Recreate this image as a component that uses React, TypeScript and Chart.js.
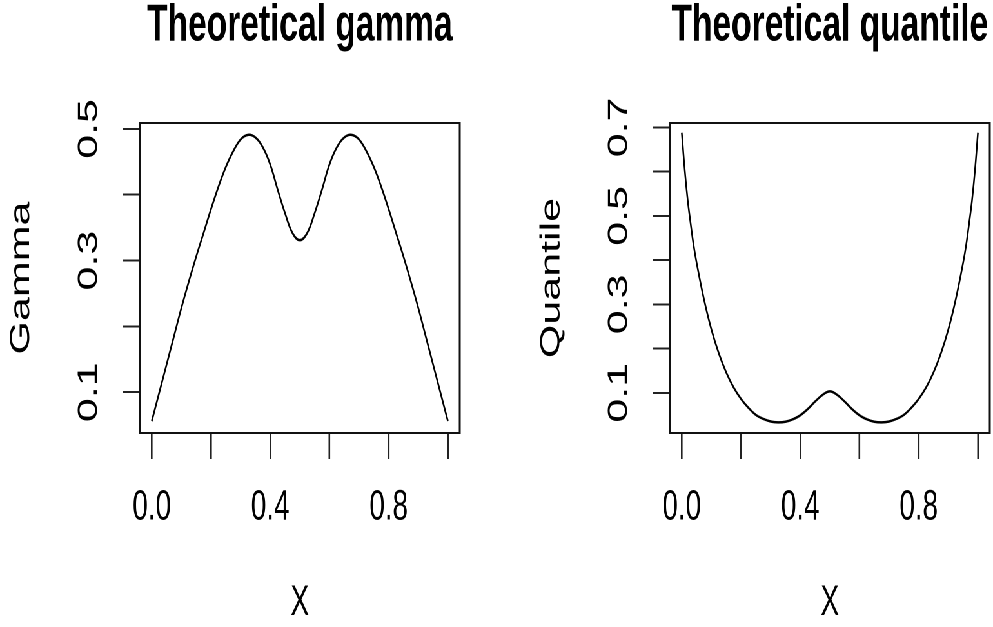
import React, { useEffect, useRef } from 'react';
import { Chart, registerables } from 'chart.js';

Chart.register(...registerables);

// ---------- data ----------
const gammaX = [
  0, 0.025, 0.05, 0.075, 0.1, 0.125, 0.15, 0.175, 0.2, 0.225, 0.25, 0.275, 0.3, 0.325, 0.35, 0.375, 0.4,
  0.425, 0.45, 0.475, 0.5, 0.525, 0.55, 0.575, 0.6, 0.625, 0.65, 0.675, 0.7, 0.725, 0.75, 0.775, 0.8,
  0.825, 0.85, 0.875, 0.9, 0.925, 0.95, 0.975, 1,
];
const gammaY = [
  0.056, 0.099, 0.142, 0.185, 0.228, 0.268, 0.306, 0.342, 0.378, 0.412, 0.442, 0.466, 0.484, 0.491, 0.487,
  0.472, 0.446, 0.408, 0.372, 0.342, 0.331, 0.342, 0.372, 0.408, 0.446, 0.472, 0.487, 0.491, 0.484, 0.466,
  0.442, 0.412, 0.378, 0.342, 0.306, 0.268, 0.228, 0.185, 0.142, 0.099, 0.056,
];

const quantileX = [
  0, 0.01, 0.02, 0.03, 0.04, 0.05, 0.075, 0.1, 0.125, 0.15, 0.175, 0.2, 0.225, 0.25, 0.275, 0.3, 0.325,
  0.35, 0.375, 0.4, 0.425, 0.45, 0.475, 0.5, 0.525, 0.55, 0.575, 0.6, 0.625, 0.65, 0.675, 0.7, 0.725,
  0.75, 0.775, 0.8, 0.825, 0.85, 0.875, 0.9, 0.925, 0.95, 0.96, 0.97, 0.98, 0.99, 1,
];
const quantileY = [
  0.688, 0.603, 0.535, 0.482, 0.433, 0.394, 0.311, 0.243, 0.189, 0.146, 0.112, 0.086, 0.066, 0.05, 0.041,
  0.035, 0.033, 0.0345, 0.04, 0.049, 0.063, 0.08, 0.095, 0.103, 0.095, 0.08, 0.063, 0.049, 0.04, 0.0345,
  0.033, 0.035, 0.041, 0.05, 0.066, 0.086, 0.112, 0.146, 0.189, 0.243, 0.311, 0.394, 0.433, 0.482, 0.535,
  0.603, 0.688,
];

const xTickValues = [0, 0.2, 0.4, 0.6, 0.8, 1];
const xTickLabels = ['0.0', '', '0.4', '', '0.8', ''];
const gammaTickValues = [0.1, 0.2, 0.3, 0.4, 0.5];
const gammaTickLabels = ['0.1', '', '0.3', '', '0.5'];
const quantileTickValues = [0.1, 0.2, 0.3, 0.4, 0.5, 0.6, 0.7];
const quantileTickLabels = ['0.1', '', '0.3', '', '0.5', '', '0.7'];

// ---------- layout (drawn wide, then squeezed horizontally like the reference) ----------
const FULL_W = 1540;
const H = 627;
const PANEL_W = 770;
const SQUEEZE = 993 / FULL_W;
const FONT = "'Liberation Sans', Arial, Helvetica, sans-serif";

Chart.defaults.font.family = FONT;
Chart.defaults.color = '#000';

const boxPlugin = {
  id: 'rbox',
  afterDatasetsDraw(chart: any) {
    const { ctx, chartArea } = chart;
    const { left, right, top, bottom } = chartArea;
    ctx.save();
    ctx.strokeStyle = '#111';
    ctx.lineWidth = 2;
    ctx.beginPath();
    ctx.moveTo(left - 1.5, top);
    ctx.lineTo(right + 1.5, top);
    ctx.moveTo(left - 1.5, bottom);
    ctx.lineTo(right + 1.5, bottom);
    ctx.stroke();
    ctx.lineWidth = 3;
    ctx.beginPath();
    ctx.moveTo(left, top);
    ctx.lineTo(left, bottom);
    ctx.moveTo(right, top);
    ctx.lineTo(right, bottom);
    ctx.stroke();
    ctx.restore();
  },
};

interface PanelSpec {
  title: string;
  yTitle: string;
  xs: number[];
  ys: number[];
  yMin: number;
  yMax: number;
  yTicks: number[];
  yLabels: string[];
  yAxisWidth: number;
  yTitlePad: number;
  padRight: number;
}

function makeConfig(p: PanelSpec): any {
  return {
    type: 'line',
    data: {
      datasets: [
        {
          data: p.xs.map((x, i) => ({ x, y: p.ys[i] })),
          borderColor: '#000',
          borderWidth: 2.5,
          pointRadius: 0,
          fill: false,
          tension: 0.4,
        },
      ],
    },
    options: {
      responsive: false,
      animation: false,
      devicePixelRatio: 2,
      layout: { padding: { left: 0, top: 0, right: p.padRight, bottom: 0 } },
      plugins: {
        legend: { display: false },
        tooltip: { enabled: false },
        title: {
          display: true,
          text: p.title,
          fullSize: false,
          color: '#000',
          font: { family: FONT, size: 52, weight: 'bold', lineHeight: 1 },
          padding: { top: 0, bottom: 71 },
        },
      },
      scales: {
        x: {
          type: 'linear',
          position: 'bottom',
          min: -0.04,
          max: 1.04,
          bounds: 'data',
          afterBuildTicks: (scale: any) => {
            scale.ticks = xTickValues.map((v) => ({ value: v }));
          },
          afterFit: (scale: any) => {
            scale.height = 194;
          },
          grid: {
            drawOnChartArea: false,
            drawTicks: true,
            tickLength: 26,
            color: '#222',
            lineWidth: 2.6,
          },
          border: { display: false },
          ticks: {
            autoSkip: false,
            maxRotation: 0,
            minRotation: 0,
            padding: 23,
            color: '#000',
            font: { family: FONT, size: 43, lineHeight: 1.2 },
            callback: (_v: any, i: number) => xTickLabels[i],
          },
          title: {
            display: true,
            text: 'X',
            color: '#000',
            font: { family: FONT, size: 43, lineHeight: 1 },
            padding: { top: 0, bottom: 2.5 },
          },
        },
        y: {
          type: 'linear',
          position: 'left',
          min: p.yMin,
          max: p.yMax,
          bounds: 'data',
          afterBuildTicks: (scale: any) => {
            scale.ticks = p.yTicks.map((v) => ({ value: v }));
          },
          afterFit: (scale: any) => {
            scale.width = p.yAxisWidth;
          },
          grid: {
            drawOnChartArea: false,
            drawTicks: true,
            tickLength: 26,
            color: '#222',
            lineWidth: 2,
          },
          border: { display: false },
          ticks: {
            autoSkip: false,
            minRotation: 90,
            maxRotation: 90,
            crossAlign: 'center',
            padding: 23,
            color: '#000',
            font: { family: FONT, size: 43, lineHeight: 1.2 },
            callback: (_v: any, i: number) => p.yLabels[i],
          },
          title: {
            display: true,
            text: p.yTitle,
            color: '#000',
            font: { family: FONT, size: 43, lineHeight: 1 },
            padding: { top: p.yTitlePad, bottom: 0 },
          },
        },
      },
    },
    plugins: [boxPlugin],
  };
}

function Panel({ spec, left }: { spec: PanelSpec; left: number }) {
  const ref = useRef<HTMLCanvasElement | null>(null);
  useEffect(() => {
    if (!ref.current) return;
    const chart = new Chart(ref.current, makeConfig(spec));
    return () => chart.destroy();
  }, [spec]);
  return (
    <div style={{ position: 'absolute', left, top: 0, width: PANEL_W, height: H }}>
      <canvas ref={ref} width={PANEL_W} height={H} style={{ width: PANEL_W, height: H, display: 'block' }} />
    </div>
  );
}

const gammaSpec: PanelSpec = {
  title: 'Theoretical gamma',
  yTitle: 'Gamma',
  xs: gammaX,
  ys: gammaY,
  yMin: 0.038,
  yMax: 0.509,
  yTicks: gammaTickValues,
  yLabels: gammaTickLabels,
  yAxisWidth: 217,
  yTitlePad: 11.5,
  padRight: 57,
};

const quantileSpec: PanelSpec = {
  title: 'Theoretical quantile',
  yTitle: 'Quantile',
  xs: quantileX,
  ys: quantileY,
  yMin: 0.009,
  yMax: 0.71,
  yTicks: quantileTickValues,
  yLabels: quantileTickLabels,
  yAxisWidth: 269,
  yTitlePad: 64.3,
  padRight: 5,
};

export default function App() {
  useEffect(() => {
    document.body.style.margin = '0';
    document.body.style.overflow = 'hidden';
    document.body.style.background = '#fff';
  }, []);
  return (
    <div
      style={{
        position: 'fixed',
        left: 0,
        top: 0,
        width: FULL_W,
        height: H,
        background: '#fff',
        transform: `scaleX(${SQUEEZE})`,
        transformOrigin: '0 0',
      }}
    >
      <Panel spec={gammaSpec} left={0} />
      <Panel spec={quantileSpec} left={PANEL_W} />
    </div>
  );
}
